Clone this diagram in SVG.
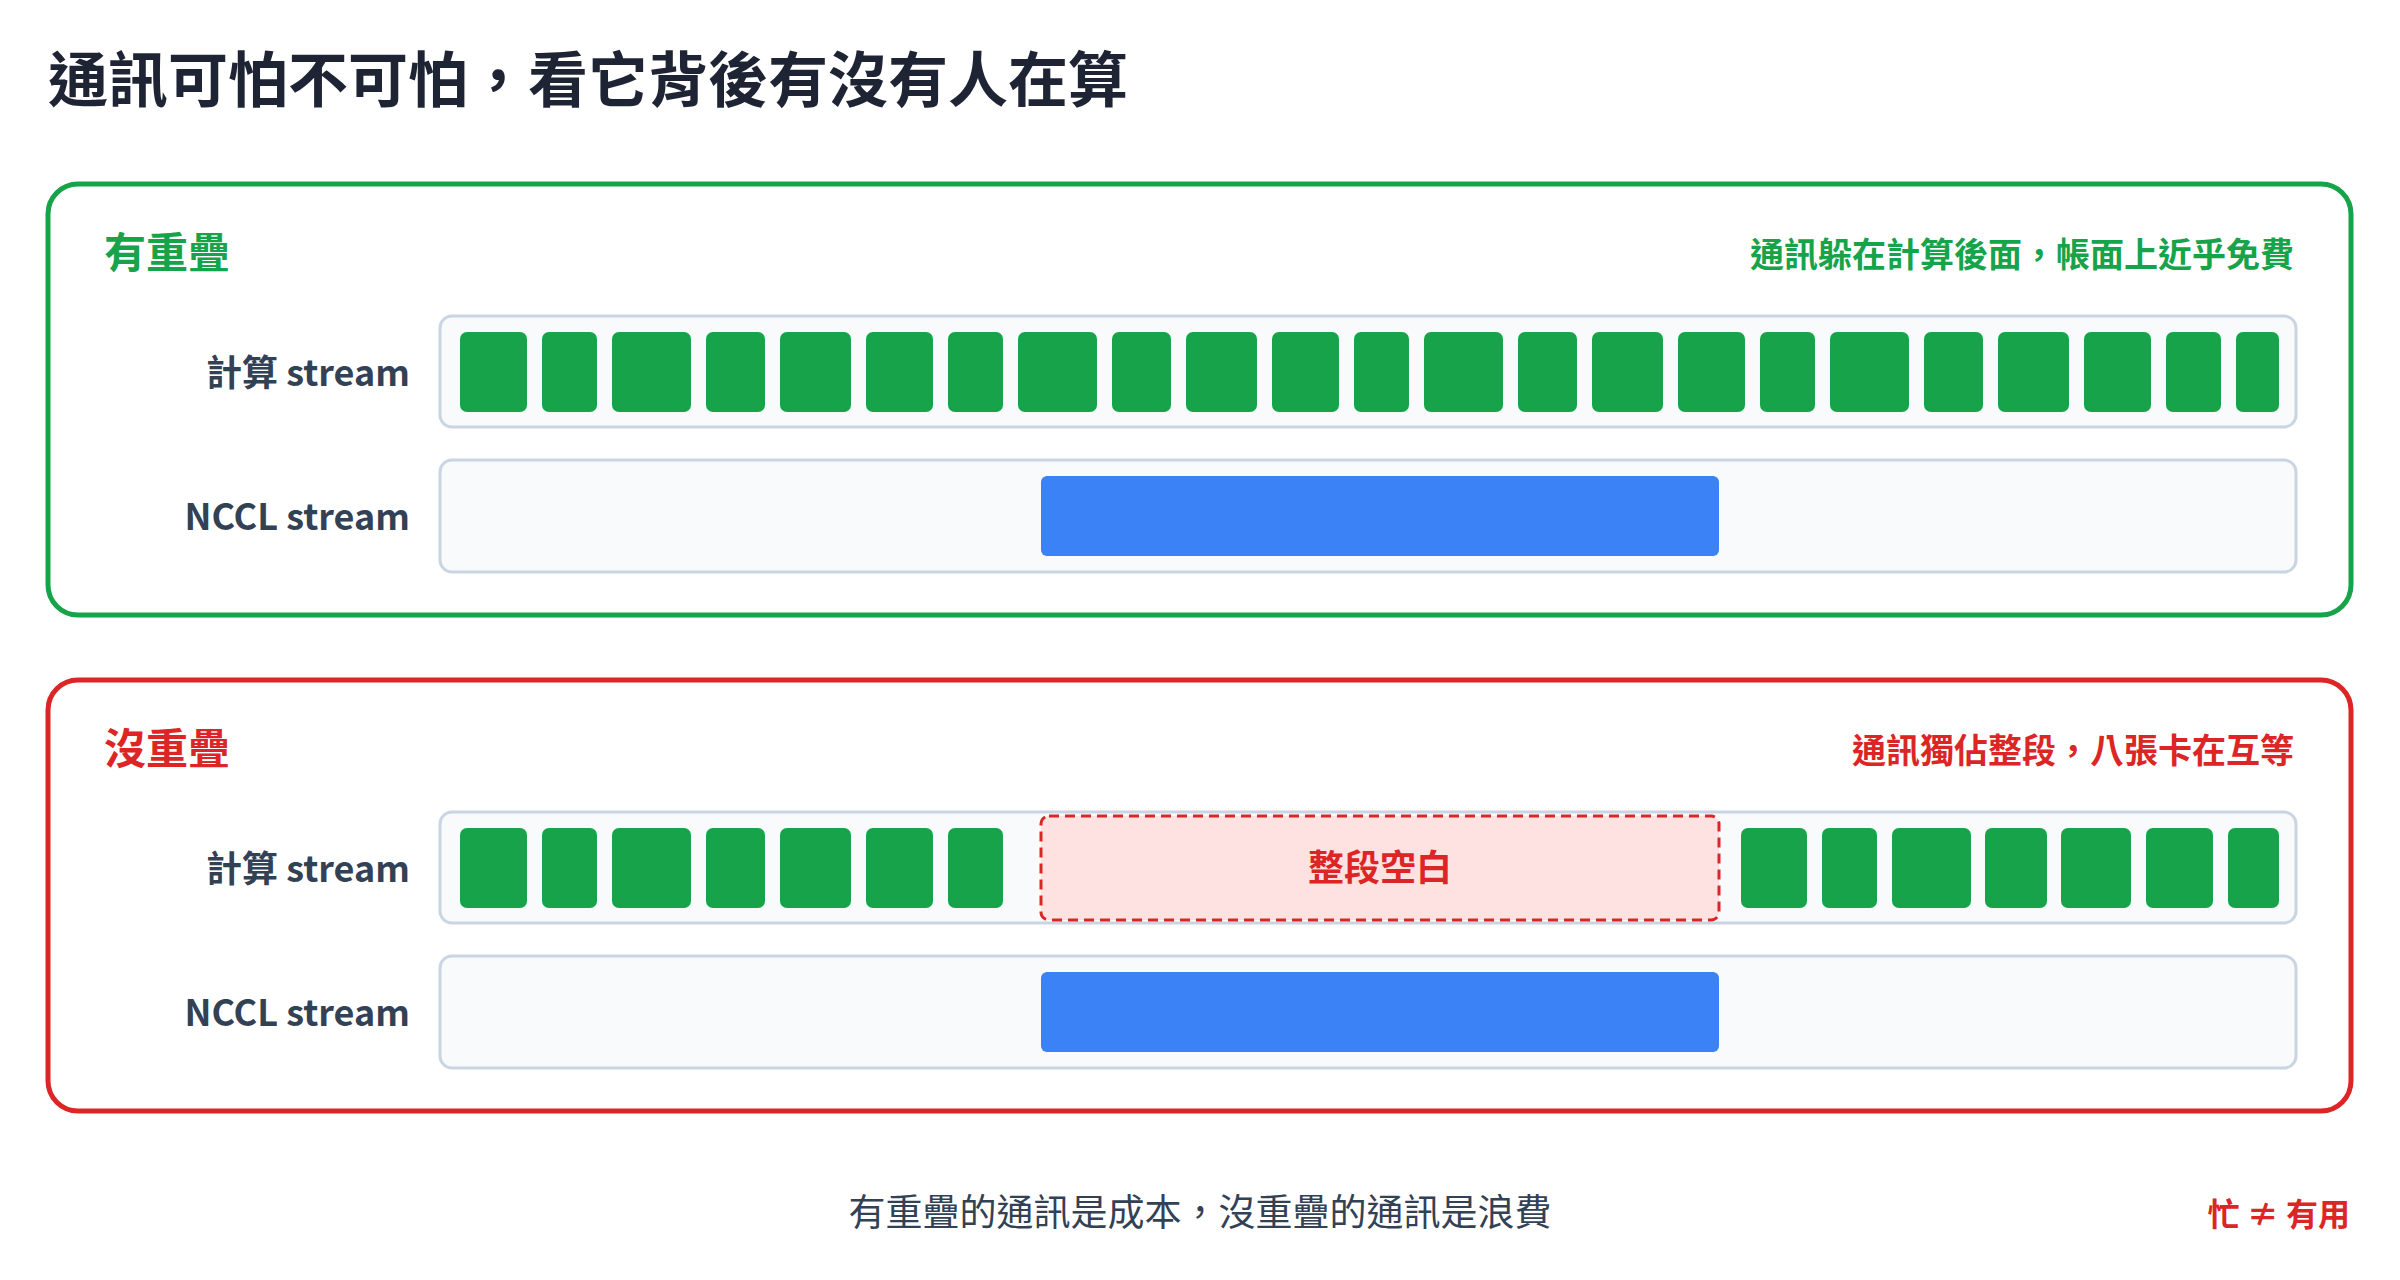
<svg xmlns="http://www.w3.org/2000/svg" width="2400" height="1280" viewBox="0 0 2400 1280">
<style>
text{font-family:"Noto Sans CJK TC","Noto Sans",sans-serif}
.title{font-size:60px;font-weight:700;fill:#1e2433}
.ptg{font-size:42px;font-weight:700;fill:#16a34a}
.ptr{font-size:42px;font-weight:700;fill:#dc2626}
.subg{font-size:34px;font-weight:700;fill:#16a34a;text-anchor:end}
.subr{font-size:34px;font-weight:700;fill:#dc2626;text-anchor:end}
.lbl{font-size:36px;font-weight:700;fill:#334155;text-anchor:end}
.lane{fill:#f8fafc;stroke:#cbd5e1;stroke-width:3}
.b{fill:#16a34a}
.nccl{fill:#3b82f6}
.foot{font-size:37px;fill:#334155;text-anchor:middle}
</style>
<rect width="2400" height="1280" fill="#ffffff"/>
<text class="title" x="48" y="102">通訊可怕不可怕，看它背後有沒有人在算</text>

<g id="overlap">
<rect x="48" y="184" width="2303" height="431" rx="30" fill="#fff" stroke="#16a34a" stroke-width="5"/>
<text class="ptg" x="104" y="268">有重疊</text>
<text class="subg" x="2294" y="267">通訊躲在計算後面，帳面上近乎免費</text>
<text class="lbl" x="410" y="386">計算 stream</text>
<rect class="lane" x="440" y="316" width="1856" height="111" rx="12"/>
<g>
<rect class="b" x="460" y="332" width="67" height="80" rx="7"/>
<rect class="b" x="542" y="332" width="55" height="80" rx="7"/>
<rect class="b" x="612" y="332" width="79" height="80" rx="7"/>
<rect class="b" x="706" y="332" width="59" height="80" rx="7"/>
<rect class="b" x="780" y="332" width="71" height="80" rx="7"/>
<rect class="b" x="866" y="332" width="67" height="80" rx="7"/>
<rect class="b" x="948" y="332" width="55" height="80" rx="7"/>
<rect class="b" x="1018" y="332" width="79" height="80" rx="7"/>
<rect class="b" x="1112" y="332" width="59" height="80" rx="7"/>
<rect class="b" x="1186" y="332" width="71" height="80" rx="7"/>
<rect class="b" x="1272" y="332" width="67" height="80" rx="7"/>
<rect class="b" x="1354" y="332" width="55" height="80" rx="7"/>
<rect class="b" x="1424" y="332" width="79" height="80" rx="7"/>
<rect class="b" x="1518" y="332" width="59" height="80" rx="7"/>
<rect class="b" x="1592" y="332" width="71" height="80" rx="7"/>
<rect class="b" x="1678" y="332" width="67" height="80" rx="7"/>
<rect class="b" x="1760" y="332" width="55" height="80" rx="7"/>
<rect class="b" x="1830" y="332" width="79" height="80" rx="7"/>
<rect class="b" x="1924" y="332" width="59" height="80" rx="7"/>
<rect class="b" x="1998" y="332" width="71" height="80" rx="7"/>
<rect class="b" x="2084" y="332" width="67" height="80" rx="7"/>
<rect class="b" x="2166" y="332" width="55" height="80" rx="7"/>
<rect class="b" x="2236" y="332" width="43" height="80" rx="7"/>
</g>
<text class="lbl" x="410" y="530">NCCL stream</text>
<rect class="lane" x="440" y="460" width="1856" height="112" rx="12"/>
<rect class="nccl" x="1041" y="476" width="678" height="80" rx="6"/>
</g>

<g id="no-overlap">
<rect x="48" y="680" width="2303" height="431" rx="30" fill="#fff" stroke="#dc2626" stroke-width="5"/>
<text class="ptr" x="104" y="764">沒重疊</text>
<text class="subr" x="2294" y="763">通訊獨佔整段，八張卡在互等</text>
<text class="lbl" x="410" y="882">計算 stream</text>
<rect class="lane" x="440" y="812" width="1856" height="111" rx="12"/>
<g>
<rect class="b" x="460" y="828" width="67" height="80" rx="7"/>
<rect class="b" x="542" y="828" width="55" height="80" rx="7"/>
<rect class="b" x="612" y="828" width="79" height="80" rx="7"/>
<rect class="b" x="706" y="828" width="59" height="80" rx="7"/>
<rect class="b" x="780" y="828" width="71" height="80" rx="7"/>
<rect class="b" x="866" y="828" width="67" height="80" rx="7"/>
<rect class="b" x="948" y="828" width="55" height="80" rx="7"/>
<rect class="b" x="1741" y="828" width="66" height="80" rx="7"/>
<rect class="b" x="1822" y="828" width="55" height="80" rx="7"/>
<rect class="b" x="1892" y="828" width="79" height="80" rx="7"/>
<rect class="b" x="1985" y="828" width="62" height="80" rx="7"/>
<rect class="b" x="2061" y="828" width="70" height="80" rx="7"/>
<rect class="b" x="2146" y="828" width="67" height="80" rx="7"/>
<rect class="b" x="2228" y="828" width="51" height="80" rx="7"/>
</g>
<rect x="1041" y="816" width="678" height="104" rx="8" fill="#fee2e2" stroke="#dc2626" stroke-width="3" stroke-dasharray="10 6"/>
<text x="1380" y="881" font-size="36" font-weight="700" fill="#dc2626" text-anchor="middle">整段空白</text>
<text class="lbl" x="410" y="1026">NCCL stream</text>
<rect class="lane" x="440" y="956" width="1856" height="112" rx="12"/>
<rect class="nccl" x="1041" y="972" width="678" height="80" rx="6"/>
</g>

<text class="foot" x="1200" y="1226">有重疊的通訊是成本，沒重疊的通訊是浪費</text>
<text x="2350" y="1226" font-size="32" font-weight="700" fill="#dc2626" text-anchor="end">忙 ≠ 有用</text>
</svg>
